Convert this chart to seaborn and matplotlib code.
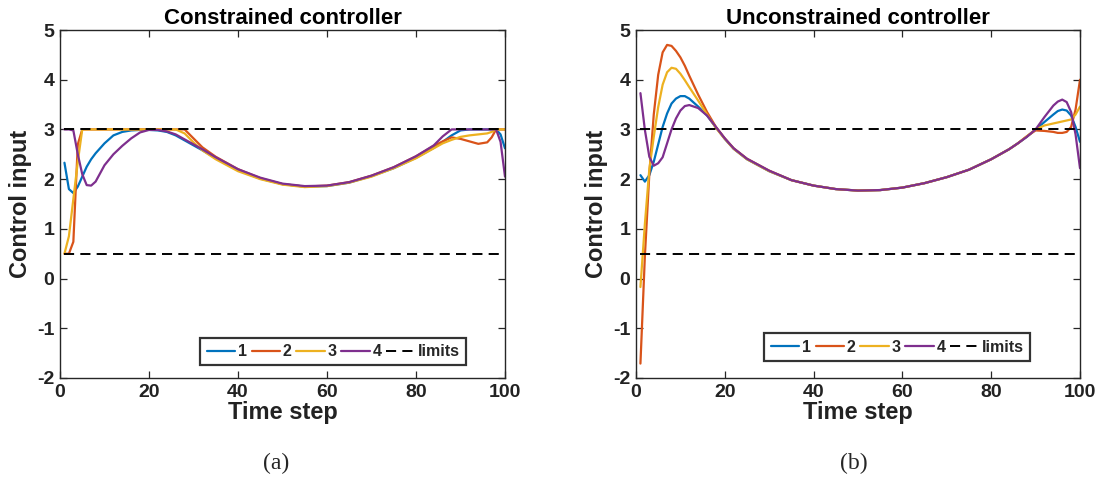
import numpy as np
import pandas as pd
import matplotlib
matplotlib.use("Agg")
import matplotlib.pyplot as plt
import seaborn as sns

# ---------------- data ----------------
series_names = ["1", "2", "3", "4"]
colors = ["#0072BD", "#D95319", "#EDB120", "#7E2F8E"]
limit_upper = 3.0
limit_lower = 0.5
limit_t = [1, 100]

# (a) constrained controller
t_a = [1, 2, 3, 4, 5, 6, 7, 8, 10, 12, 14, 16, 18, 20, 22, 24, 26, 28, 30, 32, 35,
       40, 45, 50, 55, 60, 65, 70, 75, 80, 84, 86, 88, 90, 92, 94, 96, 97, 98, 99, 100]
a_1 = [2.33, 1.80, 1.72, 1.85, 2.05, 2.25, 2.40, 2.52, 2.72, 2.88, 2.95, 2.98, 2.99, 2.99, 2.98, 2.95, 2.88, 2.78, 2.68, 2.58, 2.42,
       2.18, 2.01, 1.90, 1.85, 1.86, 1.93, 2.06, 2.22, 2.43, 2.63, 2.75, 2.88, 2.98, 3.00, 3.00, 3.00, 3.00, 3.00, 2.90, 2.62]
a_2 = [0.50, 0.50, 0.74, 2.70, 3.00, 3.00, 3.00, 3.00, 3.00, 3.00, 3.00, 3.00, 3.00, 3.00, 3.00, 3.00, 3.00, 3.00, 2.82, 2.64, 2.45,
       2.20, 2.02, 1.90, 1.85, 1.87, 1.94, 2.07, 2.24, 2.46, 2.67, 2.76, 2.84, 2.81, 2.76, 2.71, 2.74, 2.84, 3.00, 3.00, 3.00]
a_3 = [0.50, 0.85, 1.60, 2.35, 3.00, 3.00, 3.00, 3.00, 3.00, 3.00, 3.00, 3.00, 3.00, 3.00, 3.00, 3.00, 3.00, 2.92, 2.74, 2.58, 2.40,
       2.16, 2.00, 1.89, 1.84, 1.86, 1.93, 2.05, 2.22, 2.42, 2.62, 2.72, 2.79, 2.85, 2.88, 2.90, 2.92, 2.95, 3.00, 3.00, 3.00]
a_4 = [3.00, 3.00, 2.98, 2.50, 2.10, 1.88, 1.87, 1.95, 2.28, 2.50, 2.67, 2.82, 2.94, 2.99, 2.99, 2.96, 2.90, 2.80, 2.70, 2.60, 2.44,
       2.20, 2.03, 1.91, 1.86, 1.87, 1.94, 2.07, 2.24, 2.46, 2.68, 2.86, 3.00, 3.00, 3.00, 3.00, 3.00, 3.00, 3.00, 2.75, 2.05]

# (b) unconstrained controller
t_b = [1, 2, 3, 4, 5, 6, 7, 8, 9, 10, 11, 12, 14, 16, 18, 20, 22, 25, 30, 35, 40, 45, 50,
       55, 60, 65, 70, 75, 80, 84, 86, 88, 90, 92, 94, 95, 96, 97, 98, 99, 100]
b_1 = [2.08, 1.95, 2.08, 2.35, 2.70, 3.05, 3.32, 3.52, 3.62, 3.67, 3.67, 3.62, 3.46, 3.28, 3.04, 2.81, 2.61, 2.40, 2.16, 1.98, 1.87, 1.80, 1.77,
       1.78, 1.83, 1.92, 2.04, 2.19, 2.40, 2.60, 2.72, 2.85, 3.00, 3.15, 3.30, 3.37, 3.40, 3.38, 3.28, 3.05, 2.75]
b_2 = [-1.71, 0.45, 2.10, 3.30, 4.10, 4.55, 4.70, 4.68, 4.58, 4.45, 4.28, 4.08, 3.70, 3.35, 3.05, 2.82, 2.62, 2.41, 2.17, 1.98, 1.87, 1.80, 1.77,
       1.78, 1.83, 1.92, 2.04, 2.19, 2.40, 2.60, 2.72, 2.86, 2.98, 2.97, 2.95, 2.93, 2.93, 2.95, 3.05, 3.40, 4.00]
b_3 = [-0.17, 1.10, 2.20, 2.85, 3.45, 3.90, 4.15, 4.24, 4.22, 4.12, 3.99, 3.85, 3.58, 3.30, 3.03, 2.81, 2.61, 2.40, 2.16, 1.98, 1.87, 1.80, 1.77,
       1.78, 1.83, 1.92, 2.04, 2.19, 2.40, 2.60, 2.72, 2.86, 3.00, 3.08, 3.12, 3.14, 3.16, 3.18, 3.20, 3.30, 3.46]
b_4 = [3.73, 2.99, 2.45, 2.27, 2.32, 2.44, 2.72, 3.00, 3.22, 3.38, 3.47, 3.49, 3.43, 3.28, 3.05, 2.82, 2.62, 2.41, 2.17, 1.98, 1.87, 1.80, 1.77,
       1.78, 1.83, 1.92, 2.04, 2.19, 2.40, 2.60, 2.72, 2.85, 3.00, 3.25, 3.48, 3.56, 3.60, 3.55, 3.35, 2.90, 2.22]

titles = ["Constrained controller", "Unconstrained controller"]
captions = ["(a)", "(b)"]
x_ticks = [0, 20, 40, 60, 80, 100]
y_ticks = [-2, -1, 0, 1, 2, 3, 4, 5]

# ---------------- plotting ----------------
sns.set_style("ticks")
plt.rcParams["font.family"] = ["Liberation Sans", "DejaVu Sans"]
plt.rcParams["font.weight"] = "bold"
plt.rcParams["axes.unicode_minus"] = False

fig = plt.figure(figsize=(11.03, 4.79), dpi=100)
ax_a = fig.add_axes([60 / 1103, 1 - 378 / 479, 445 / 1103, 348 / 479])
ax_b = fig.add_axes([636 / 1103, 1 - 378 / 479, 444 / 1103, 348 / 479])

panels = [
    (ax_a, t_a, [a_1, a_2, a_3, a_4], (0.93, 0.013)),
    (ax_b, t_b, [b_1, b_2, b_3, b_4], (0.905, 0.026)),
]

edge = "#262626"
for i, (ax, t, ys, anchor) in enumerate(panels):
    df = pd.DataFrame({
        "t": np.tile(t, 4),
        "u": np.concatenate(ys),
        "series": np.repeat(series_names, len(t)),
    })
    sns.lineplot(data=df, x="t", y="u", hue="series", palette=colors,
                 hue_order=series_names, linewidth=1.6, ax=ax, legend=False,
                 estimator=None, sort=False)
    for lim in (limit_upper, limit_lower):
        sns.lineplot(x=limit_t, y=[lim, lim], color="black", linewidth=1.4,
                     dashes=False, ax=ax, legend=False)
    for ln in ax.get_lines()[-2:]:
        ln.set_linestyle((0, (5.2, 3.2)))
    ax.set_xlim(0, 100)
    ax.set_ylim(-2, 5)
    ax.set_xticks(x_ticks)
    ax.set_yticks(y_ticks)
    ax.tick_params(direction="in", length=5, width=0.9, top=True, right=True,
                   labelsize=14, colors=edge, labelcolor="#222222", pad=4)
    for lab in ax.get_xticklabels() + ax.get_yticklabels():
        lab.set_fontweight("bold")
    for sp in ax.spines.values():
        sp.set_visible(True)
        sp.set_color(edge)
        sp.set_linewidth(1.0)
    ax.set_title(titles[i], fontsize=16, fontweight="bold", pad=4, color="black")
    ax.set_xlabel("Time step", fontsize=17, fontweight="bold", labelpad=0, color="#222222")
    ax.set_ylabel("Control input", fontsize=17, fontweight="bold", labelpad=4, color="#222222")

    lines = ax.get_lines()
    handles = lines[:4] + [lines[4]]
    labels = series_names + ["limits"]
    leg = ax.legend(handles, labels, loc="lower right", bbox_to_anchor=anchor,
                    ncol=5, frameon=True, fancybox=False, handlelength=1.8,
                    handletextpad=0.15, columnspacing=0.3, borderpad=0.4,
                    prop={"weight": "bold", "size": 11.5})
    leg.get_frame().set_edgecolor("black")
    leg.get_frame().set_linewidth(1.6)

fig.text(0.25, 0.01, "(a)", ha="center", va="bottom",
         family=["Liberation Serif", "DejaVu Serif"], fontsize=17, fontweight="normal")
fig.text(0.774, 0.01, "(b)", ha="center", va="bottom",
         family=["Liberation Serif", "DejaVu Serif"], fontsize=17, fontweight="normal")

fig.savefig("out.png", dpi=100)
